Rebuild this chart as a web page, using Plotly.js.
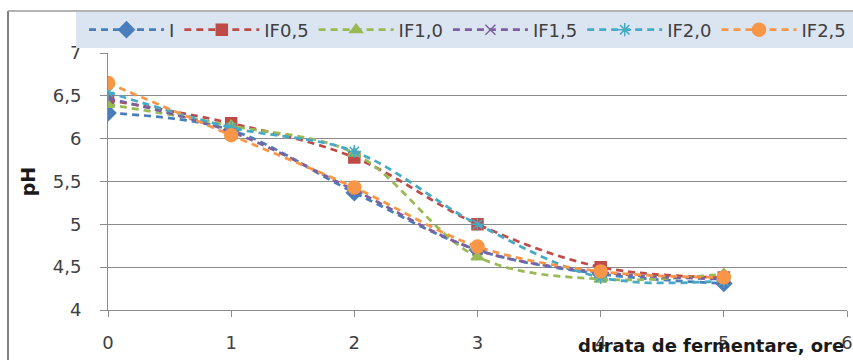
<!DOCTYPE html>
<html>
<head>
<meta charset="utf-8">
<script src="https://cdn.plot.ly/plotly-3.0.1.min.js"></script>
<style>html,body{margin:0;padding:0;background:#fff;}#chart{width:853px;height:360px;}</style>
</head>
<body>
<div id="chart"></div>
<script>
var hours = [0, 1, 2, 3, 4, 5];
var seriesNames = ["I", "IF0,5", "IF1,0", "IF1,5", "IF2,0", "IF2,5"];
var valI    = [6.30, 6.10, 5.37, 4.70, 4.42, 4.31];
var valIF05 = [6.45, 6.18, 5.78, 5.00, 4.50, 4.38];
var valIF10 = [6.40, 6.15, 5.83, 4.62, 4.36, 4.42];
var valIF15 = [6.47, 6.08, 5.40, 4.70, 4.44, 4.36];
var valIF20 = [6.54, 6.13, 5.85, 5.00, 4.38, 4.34];
var valIF25 = [6.65, 6.04, 5.43, 4.74, 4.45, 4.38];
var yTickVals = [4, 4.5, 5, 5.5, 6, 6.5, 7];
var yTickText = ["4", "4,5", "5", "5,5", "6", "6,5", "7"];
var xTickVals = [0, 1, 2, 3, 4, 5, 6];

var allValues = [valI, valIF05, valIF10, valIF15, valIF20, valIF25];
var colors = ["#4a7ebb", "#be4b48", "#98b954", "#7d60a0", "#46aac5", "#f79646"];
var symbols = ["diamond", "square", "triangle-up", "x-thin-open", "asterisk-open", "circle"];
var sizes = [12, 11, 11, 10, 11, 13];

var traces = seriesNames.map(function(n, i) {
  return {
    x: hours, y: allValues[i], name: n, type: "scatter", mode: "lines+markers",
    line: {color: colors[i], width: 2.75, dash: "7px,5px", shape: "spline", smoothing: 1},
    marker: {color: colors[i], symbol: symbols[i], size: sizes[i], line: {color: colors[i], width: 1.5}}
  };
});

function px(x) { return (x - 108) / 739; }
function py(y) { return (310 - y) / 257; }

var layout = {
  width: 853, height: 360,
  margin: {l: 108, r: 6, t: 53, b: 50},
  paper_bgcolor: "#ffffff", plot_bgcolor: "#ffffff",
  font: {family: "DejaVu Sans, sans-serif", size: 17, color: "#404040"},
  showlegend: true,
  legend: {
    orientation: "h", x: px(84), xanchor: "left", y: py(30), yanchor: "middle",
    bgcolor: "rgba(0,0,0,0)", font: {size: 18, color: "#404040"}, traceorder: "normal",
    itemwidth: 75
  },
  xaxis: {
    range: [0, 6], tickvals: xTickVals, showgrid: false, zeroline: false,
    showline: true, linecolor: "#8c8c8c", linewidth: 1,
    ticks: "outside", ticklen: 6, tickcolor: "#8c8c8c", ticklabelstandoff: 10,
    tickfont: {size: 18, color: "#404040"}, fixedrange: true
  },
  yaxis: {
    range: [4, 7], tickvals: yTickVals, ticktext: yTickText,
    showgrid: true, gridcolor: "#8c8c8c", gridwidth: 1, zeroline: false,
    showline: true, linecolor: "#8c8c8c", linewidth: 1,
    ticks: "outside", ticklen: 7, tickcolor: "#8c8c8c", ticklabelstandoff: 15,
    tickfont: {size: 18, color: "#404040"},
    title: {text: "<b>pH</b>", font: {size: 19, color: "#1a1a1a"}, standoff: 12}, fixedrange: true
  },
  shapes: [
    {type: "rect", xref: "paper", yref: "paper", x0: px(76), x1: px(870), y0: py(48), y1: py(12),
     fillcolor: "#dbe5f1", line: {width: 0}, layer: "above"},
    {type: "line", xref: "paper", yref: "paper", x0: px(8), x1: px(8), y0: py(11), y1: py(370),
     line: {color: "#7f7f7f", width: 2}, layer: "above"},
    {type: "line", xref: "paper", yref: "paper", x0: px(8), x1: px(870), y0: py(11), y1: py(11),
     line: {color: "#9a9a9a", width: 1.5}, layer: "above"}
  ],
  annotations: [
    {text: "<b>durata de fermentare, ore</b>", xref: "paper", yref: "paper",
     x: px(846), xanchor: "right", y: py(345), yanchor: "middle", showarrow: false,
     font: {size: 18, color: "#1a1a1a"}}
  ]
};

Plotly.newPlot("chart", traces, layout, {displayModeBar: false, staticPlot: true});
</script>
</body>
</html>
